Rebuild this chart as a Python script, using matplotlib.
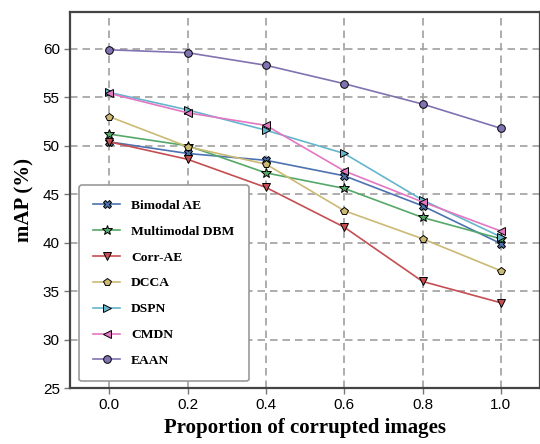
import matplotlib
matplotlib.use('Agg')
import matplotlib.pyplot as plt

# proportion of corrupted images
x = [0.0, 0.2, 0.4, 0.6, 0.8, 1.0]

bimodal_ae = [50.4, 49.2, 48.5, 46.9, 43.8, 39.9]
multimodal_dbm = [51.2, 50.0, 47.2, 45.6, 42.6, 40.4]
corr_ae = [50.4, 48.6, 45.7, 41.6, 36.0, 33.8]
dcca = [53.0, 49.9, 48.1, 43.3, 40.4, 37.1]
dspn = [55.5, 53.7, 51.6, 49.2, 44.4, 40.6]
cmdn = [55.4, 53.4, 52.1, 47.4, 44.2, 41.2]
eaan = [59.9, 59.6, 58.3, 56.4, 54.3, 51.8]

series = [
    ('Bimodal AE', bimodal_ae, '#4C72B0', 'X'),
    ('Multimodal DBM', multimodal_dbm, '#55A868', '*'),
    ('Corr-AE', corr_ae, '#C44E52', 'v'),
    ('DCCA', dcca, '#CCB974', 'p'),
    ('DSPN', dspn, '#64B5CD', '>'),
    ('CMDN', cmdn, '#E377C2', '<'),
    ('EAAN', eaan, '#8172B2', 'o'),
]

fig = plt.figure(figsize=(5.4, 4.44), dpi=100)
ax = fig.add_axes([0.13, 0.126, 0.87, 0.847])

for name, ys, col, mk in series:
    ms = 7.5 if mk == '*' else 5.5
    ax.plot(x, ys, color=col, marker=mk, markersize=ms, linewidth=1.2,
            markeredgecolor='black', markeredgewidth=0.7, label=name, zorder=3)

ax.set_xlim(-0.1, 1.1)
ax.set_ylim(25, 63.8)
ax.set_xticks(x)
ax.set_xticklabels(['0.0', '0.2', '0.4', '0.6', '0.8', '1.0'])
ax.set_yticks([25, 30, 35, 40, 45, 50, 55, 60])
ax.grid(True, linestyle=(0, (4.5, 3)), color='#a0a0a0', linewidth=1.2, zorder=0)

for lab in ax.get_xticklabels() + ax.get_yticklabels():
    lab.set_fontfamily('Liberation Sans')
    lab.set_fontsize(11)
ax.tick_params(direction='out', length=4, width=1, color='#777777')
for sp in ax.spines.values():
    sp.set_color('#444444')
    sp.set_linewidth(1.6)

ax.set_xlabel('Proportion of corrupted images', fontfamily='Liberation Serif',
              fontweight='bold', fontsize=15, labelpad=4)
ax.set_ylabel('mAP (%)', fontfamily='Liberation Serif',
              fontweight='bold', fontsize=15, labelpad=6)

leg = ax.legend(loc='lower left', bbox_to_anchor=(0.005, 0.0),
                prop={'family': 'Liberation Serif', 'weight': 'bold', 'size': 9.7},
                frameon=True, fancybox=True, edgecolor='#999999', framealpha=1,
                handlelength=2.0, labelspacing=1.0, borderpad=1.05, handletextpad=0.8)
leg.get_frame().set_linewidth(1.2)

fig.savefig('out.png', dpi=100)
